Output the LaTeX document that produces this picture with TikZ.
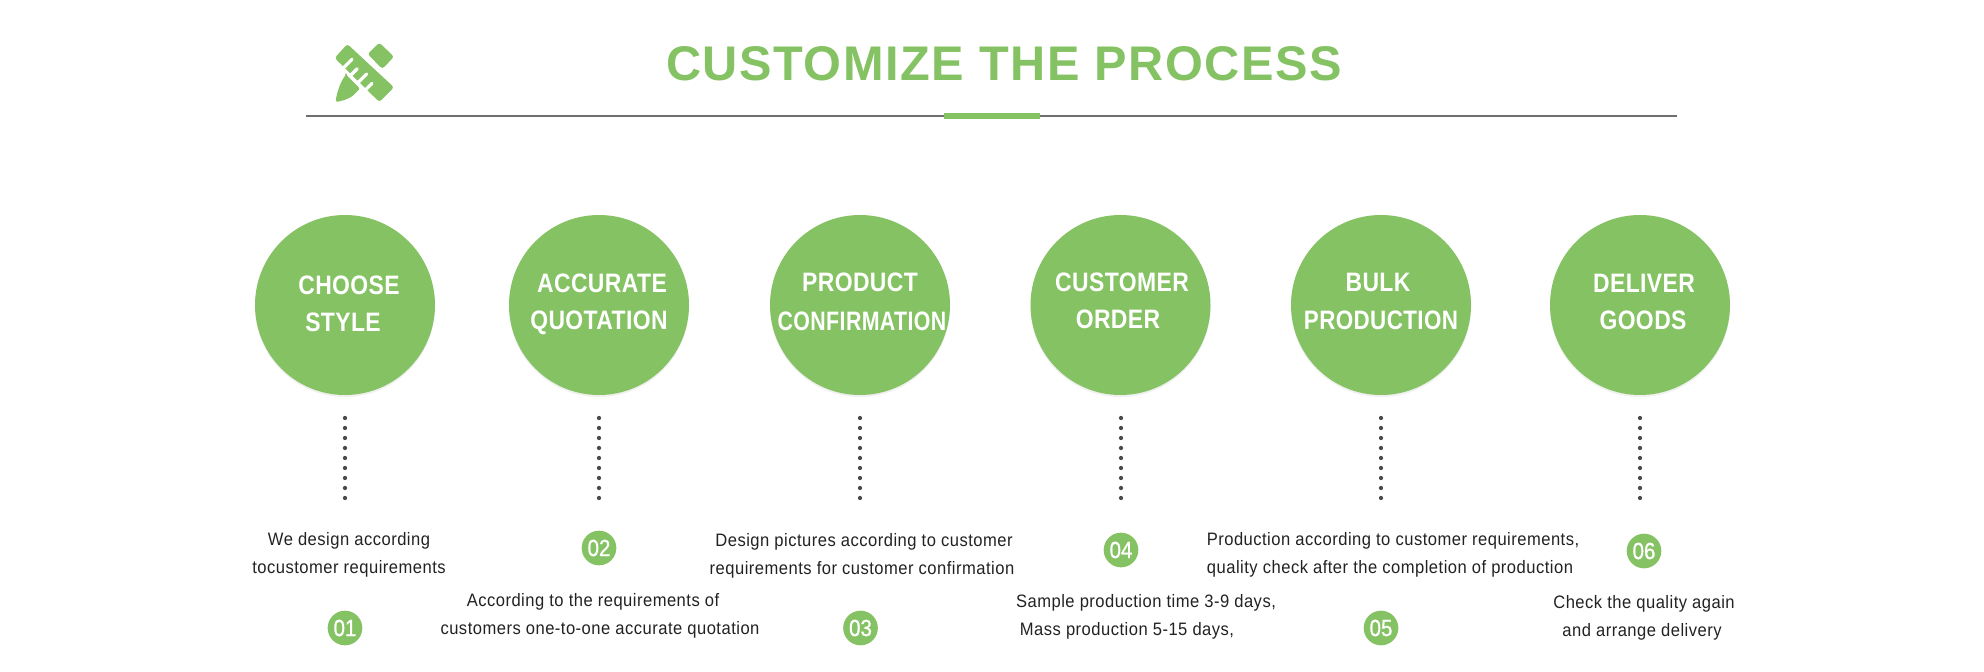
\documentclass[tikz,border=0pt]{standalone}
\usepackage{fontspec}
\usetikzlibrary{shadows}
\setmainfont{Liberation Sans}
\newfontfamily\titlefont[LetterSpace=3.1]{Liberation Sans Bold}
\newfontfamily\capfont[FakeStretch=0.86,LetterSpace=1.5]{Liberation Sans Bold}
\newfontfamily\capnarrow[FakeStretch=0.80,LetterSpace=1.5]{Liberation Sans Bold}
\newfontfamily\capmid[FakeStretch=0.84,LetterSpace=1.5]{Liberation Sans Bold}
\newfontfamily\numfont[FakeStretch=0.88,FakeBold=0.9]{Liberation Sans}
\newfontfamily\bodyfont[FakeStretch=0.92,LetterSpace=2.7]{Liberation Sans}
\definecolor{leaf}{HTML}{85C263}
\definecolor{ink}{HTML}{222222}
\definecolor{rulegray}{HTML}{6E6E6E}
\definecolor{dotgray}{HTML}{4A4A4A}
\tikzset{
  bigdisc/.style={circle,fill=leaf,minimum size=135pt,inner sep=0pt,
    drop shadow={fill=black,opacity=.06,shadow xshift=0pt,shadow yshift=-1.5pt}},
  numdisc/.style={circle,fill=leaf,minimum size=26pt,inner sep=0pt,text=white,
    font=\numfont\fontsize{17.5}{17}\selectfont},
  caption/.style={anchor=base,inner sep=0pt,text=white,font=\capfont\fontsize{20}{20}\selectfont},
  bodytext/.style={anchor=base,inner sep=0pt,text=ink,font=\bodyfont\fontsize{13.5}{13}\selectfont},
  dotline/.style={draw=dotgray,line width=3.2pt,line cap=round,dash pattern=on 0pt off 7.5pt}
}
\begin{document}
\begin{tikzpicture}[x=0.75pt,y=-0.75pt]
\useasboundingbox (0,0) rectangle (1984,671);
% title
\node[anchor=base,inner sep=0pt,text=leaf,font=\titlefont\fontsize{36.5}{38}\selectfont] (title) at (1004,80) {CUSTOMIZE THE PROCESS};
\coordinate (ruleL) at (306,116);
\coordinate (ruleR) at (1677,116);
\draw[rulegray,line width=1.2pt] (ruleL) -- (ruleR);
\fill[leaf] (944,113) rectangle (1040,119);
% icon
\begin{scope}[shift={(320,30)},x=0.25pt,y=-0.25pt]
  \fill[leaf,rounded corners=2pt] (44,84) -- (82,42) -- (222,172) -- (178,216) -- cycle;
  \draw[white,line width=2.4pt,line cap=round]
    (72,112) -- ++(24,-24) (94,134) -- ++(18,-18) (116,156) -- ++(24,-24) (138,178) -- ++(18,-18);
  \fill[leaf,rounded corners=2pt] (143,72) -- (178,38) -- (222,80) -- (187,117) -- cycle;
  \fill[leaf,rounded corners=1.5pt] (78,134) -- (120,176) -- (98,198) .. controls (82,208) and (65,213) .. (47,216) .. controls (50,190) and (60,158) .. (78,134) -- cycle;
\end{scope}
% big discs
\node[bigdisc] (c1) at (345,305) {};
\node[bigdisc] (c2) at (599,305) {};
\node[bigdisc] (c3) at (860,305) {};
\node[bigdisc] (c4) at (1120.5,305) {};
\node[bigdisc] (c5) at (1381,305) {};
\node[bigdisc] (c6) at (1640,305) {};
\node[caption] (t1a) at (349,294) {CHOOSE};
\node[caption] (t1b) at (343,331) {STYLE};
\node[caption] (t2a) at (602,292) {ACCURATE};
\node[caption] (t2b) at (599,329) {QUOTATION};
\node[caption] (t3a) at (860,291) {PRODUCT};
\node[caption,font=\capnarrow\fontsize{20}{20}\selectfont] (t3b) at (862,330) {CONFIRMATION};
\node[caption] (t4a) at (1122,291) {CUSTOMER};
\node[caption] (t4b) at (1118,328) {ORDER};
\node[caption] (t5a) at (1378,291) {BULK};
\node[caption,font=\capmid\fontsize{20}{20}\selectfont] (t5b) at (1381,329) {PRODUCTION};
\node[caption] (t6a) at (1644,292) {DELIVER};
\node[caption] (t6b) at (1643,329) {GOODS};
% dotted connectors
\coordinate (d1) at (345,418); \coordinate (e1) at (345,499);
\coordinate (d2) at (599,418); \coordinate (e2) at (599,499);
\coordinate (d3) at (860,418); \coordinate (e3) at (860,499);
\coordinate (d4) at (1121,418); \coordinate (e4) at (1121,499);
\coordinate (d5) at (1381,418); \coordinate (e5) at (1381,499);
\coordinate (d6) at (1640,418); \coordinate (e6) at (1640,499);
\path[dotline] (d1) -- (e1);
\path[dotline] (d2) -- (e2);
\path[dotline] (d3) -- (e3);
\path[dotline] (d4) -- (e4);
\path[dotline] (d5) -- (e5);
\path[dotline] (d6) -- (e6);
% number discs
\node[numdisc] (n1) at (345,628) {01};
\node[numdisc] (n2) at (599,548) {02};
\node[numdisc] (n3) at (860.5,628) {03};
\node[numdisc] (n4) at (1121,550) {04};
\node[numdisc] (n5) at (1381,628) {05};
\node[numdisc] (n6) at (1644,551) {06};
% body texts
\node[bodytext] (b1a) at (349,545) {We design according};
\node[bodytext] (b1b) at (349,573) {tocustomer requirements};
\node[bodytext] (b2a) at (593,606) {According to the requirements of};
\node[bodytext] (b2b) at (600,634) {customers one-to-one accurate quotation};
\node[bodytext] (b3a) at (864,546) {Design pictures according to customer};
\node[bodytext] (b3b) at (862,574) {requirements for customer confirmation};
\node[bodytext] (b4a) at (1146,607) {Sample production time 3-9 days,};
\node[bodytext] (b4b) at (1127,635) {Mass production 5-15 days,};
\node[bodytext] (b5a) at (1393,545) {Production according to customer requirements,};
\node[bodytext] (b5b) at (1390,573) {quality check after the completion of production};
\node[bodytext] (b6a) at (1644,608) {Check the quality again};
\node[bodytext] (b6b) at (1642,636) {and arrange delivery};
\end{tikzpicture}
\end{document}
